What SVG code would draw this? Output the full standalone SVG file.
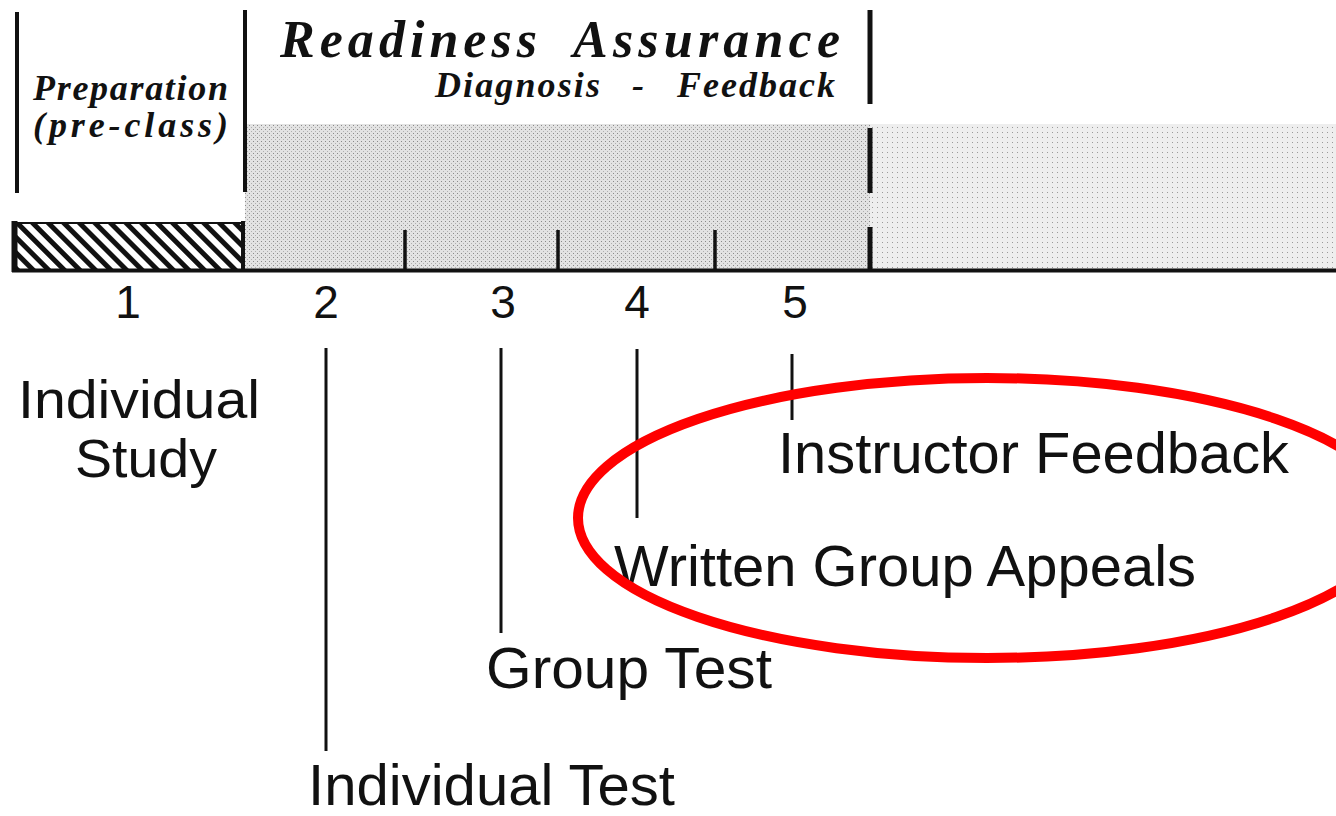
<svg xmlns="http://www.w3.org/2000/svg" width="1336" height="816" viewBox="0 0 1336 816">
  <style>
    .serif { font-family: "Liberation Serif", "Times New Roman", serif; font-weight: bold; font-style: italic; fill: #111; }
    .sans { font-family: "Liberation Sans", Arial, sans-serif; fill: #111; }
    .rule { stroke: #111; stroke-width: 4; fill: none; }
    .lead { stroke: #111; stroke-width: 3; fill: none; }
    .tick { stroke: #111; stroke-width: 3.5; fill: none; }
  </style>
  <defs>
    <pattern id="stipple" width="4" height="4" patternUnits="userSpaceOnUse">
      <rect width="4" height="4" fill="#e3e3e3"/>
      <rect x="1" y="1" width="1" height="1" fill="#8a8a8a"/>
      <rect x="3" y="3" width="1" height="1" fill="#b0b0b0"/>
    </pattern>
    <pattern id="stippleLight" width="5" height="5" patternUnits="userSpaceOnUse">
      <rect width="5" height="5" fill="#eeeeee"/>
      <rect x="2" y="2" width="1" height="1" fill="#9a9a9a"/>
    </pattern>
    <pattern id="hatch" width="11" height="11" patternUnits="userSpaceOnUse" patternTransform="rotate(45)">
      <rect width="11" height="11" fill="#ffffff"/>
      <rect x="0" y="0" width="11" height="5" fill="#111"/>
    </pattern>
  </defs>

  <rect width="1336" height="816" fill="#ffffff"/>

  <!-- shaded time band -->
  <g id="band">
    <rect x="245" y="124" width="625" height="146" fill="url(#stipple)"/>
    <rect x="870" y="124" width="466" height="146" fill="url(#stippleLight)"/>
  </g>

  <!-- pre-class hatched block -->
  <g id="prep-block">
    <rect x="14" y="223" width="230" height="47" fill="url(#hatch)"/>
    <line x1="14" y1="223" x2="244" y2="223" stroke="#111" stroke-width="2"/>
    <line x1="14.5" y1="221" x2="14.5" y2="272" stroke="#111" stroke-width="6"/>
    <line x1="243" y1="221" x2="243" y2="272" stroke="#111" stroke-width="4"/>
  </g>

  <!-- phase dividers, baseline and ticks -->
  <g id="axis">
    <line class="rule" x1="17" y1="12" x2="17" y2="193"/>
    <line class="rule" x1="245" y1="10" x2="245" y2="192"/>
    <line x1="870" y1="10" x2="870" y2="104" stroke="#111" stroke-width="5"/>
    <line x1="870" y1="128" x2="870" y2="193" stroke="#111" stroke-width="5"/>
    <line x1="870" y1="227" x2="870" y2="270" stroke="#111" stroke-width="5"/>
    <line x1="12" y1="270.5" x2="1336" y2="270.5" stroke="#111" stroke-width="4"/>
    <line class="tick" x1="405" y1="230" x2="405" y2="270"/>
    <line class="tick" x1="558" y1="230" x2="558" y2="270"/>
    <line class="tick" x1="715" y1="230" x2="715" y2="270"/>
  </g>

  <!-- phase headings -->
  <g id="heading-prep">
    <text class="serif" x="33" y="100" font-size="36" textLength="195" lengthAdjust="spacing">Preparation</text>
    <text class="serif" x="33" y="137" font-size="36" textLength="195" lengthAdjust="spacing">(pre-class)</text>
  </g>
  <g id="heading-ra">
    <text class="serif" x="280" y="57" font-size="52" textLength="257" lengthAdjust="spacing">Readiness</text>
    <text class="serif" x="573" y="57" font-size="52" textLength="267" lengthAdjust="spacing">Assurance</text>
    <text class="serif" x="435" y="97" font-size="36" textLength="165" lengthAdjust="spacing">Diagnosis</text>
    <text class="serif" x="632" y="97" font-size="36">-</text>
    <text class="serif" x="677" y="97" font-size="36" textLength="158" lengthAdjust="spacing">Feedback</text>
  </g>

  <!-- step numbers -->
  <g id="numbers" class="sans" font-size="46" text-anchor="middle">
    <text x="128" y="318">1</text>
    <text x="326" y="318">2</text>
    <text x="503" y="318">3</text>
    <text x="637" y="318">4</text>
    <text x="795" y="318">5</text>
  </g>

  <!-- leader lines -->
  <g id="connectors">
    <line class="lead" x1="326" y1="348" x2="326" y2="751"/>
    <line class="lead" x1="501" y1="348" x2="501" y2="633"/>
    <line class="lead" x1="637" y1="349" x2="637" y2="518"/>
    <line class="lead" x1="792" y1="354" x2="792" y2="420"/>
  </g>

  <!-- step labels -->
  <g id="step1" class="sans" font-size="53">
    <text x="18" y="418" textLength="242" lengthAdjust="spacingAndGlyphs">Individual</text>
    <text x="75" y="477" textLength="142" lengthAdjust="spacingAndGlyphs">Study</text>
  </g>
  <g id="step2"><text class="sans" x="308" y="805" font-size="57" textLength="367" lengthAdjust="spacingAndGlyphs">Individual Test</text></g>
  <g id="step3"><text class="sans" x="486" y="688" font-size="57" textLength="286" lengthAdjust="spacingAndGlyphs">Group Test</text></g>
  <g id="step4"><text class="sans" x="614" y="586" font-size="57" textLength="582" lengthAdjust="spacingAndGlyphs">Written Group Appeals</text></g>
  <g id="step5"><text class="sans" x="778" y="473" font-size="57" textLength="511" lengthAdjust="spacingAndGlyphs">Instructor Feedback</text></g>

  <!-- highlight ring -->
  <g id="highlight">
    <ellipse cx="987" cy="518" rx="409" ry="140" fill="none" stroke="#ff0000" stroke-width="10"/>
  </g>
</svg>
